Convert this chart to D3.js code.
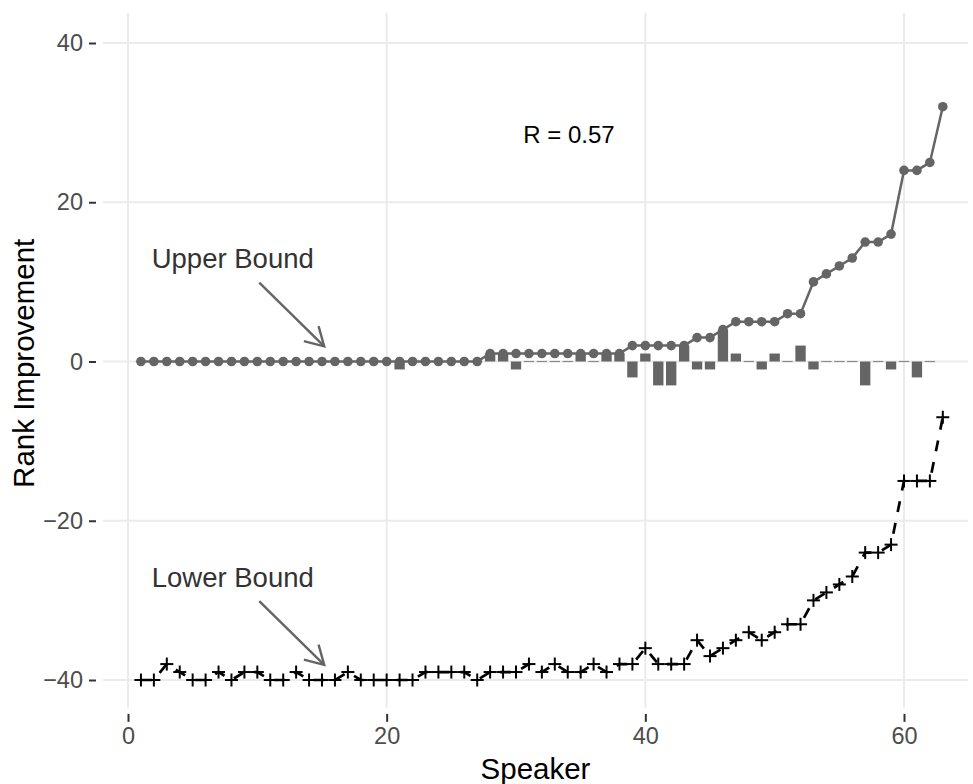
<!DOCTYPE html>
<html>
<head>
<meta charset="utf-8">
<script src="https://cdn.jsdelivr.net/npm/d3@7"></script>
<style>
  html, body { margin: 0; padding: 0; background: #fff; }
  svg { display: block; font-family: "Liberation Sans", Arial, Helvetica, sans-serif; }
</style>
</head>
<body>
<svg id="chart" width="973" height="784"></svg>
<script>
// ---- data ----
const speakers = d3.range(1, 64);
const upperBound = [0,0,0,0,0,0,0,0,0,0, 0,0,0,0,0,0,0,0,0,0,
                    0,0,0,0,0,0,0,1,1,1, 1,1,1,1,1,1,1,1,2,2,
                    2,2,2,3,3,4,5,5,5,5, 6,6,10,11,12,13,15,15,16,24,
                    24,25,32];
const lowerBound = [-40,-40,-38,-39,-40,-40,-39,-40,-39,-39, -40,-40,-39,-40,-40,-40,-39,-40,-40,-40,
                    -40,-40,-39,-39,-39,-39,-40,-39,-39,-39, -38,-39,-38,-39,-39,-38,-39,-38,-38,-36,
                    -38,-38,-38,-35,-37,-36,-35,-34,-35,-34, -33,-33,-30,-29,-28,-27,-24,-24,-23,-15,
                    -15,-15,-7];
const barValues = [0,0,0,0,0,0,0,0,0,0, 0,0,0,0,0,0,0,0,0,0,
                   -1,0,0,0,0,0,0,1,1,-1, 0,0,0,0,1,0,1,1,-2,1,
                   -3,-3,2,-1,-1,4,1,0,-1,1, 0,2,-1,0,0,0,-3,0,-1,0,
                   -2,0,null];
const xTicks = [0, 20, 40, 60];
const yTicks = [-40, -20, 0, 20, 40];
const labels = [
  {text: "Upper Bound", x: 8.1, y: 13.0, ax: 10.15, ay: 9.9, bx: 15.17, by: 1.9},
  {text: "Lower Bound", x: 8.1, y: -27.1, ax: 10.15, ay: -30.1, bx: 15.17, by: -38.1}
];
const rLabel = {text: "R = 0.57", x: 34.1, y: 28.5};

// ---- layout ----
const svg = d3.select("#chart");
const x = d3.scaleLinear().domain([0, 60]).range([128, 904]);
const y = d3.scaleLinear().domain([-40, 40]).range([680, 43]);
const pLeft = 103, pRight = 968, pTop = y(43.8), pBottom = y(-43.5);
const grey = "#656565";
const gridCol = "#ebebeb";

// gridlines
const g = svg.append("g");
g.selectAll(".gx").data(xTicks).join("line")
  .attr("x1", d => x(d)).attr("x2", d => x(d))
  .attr("y1", pTop).attr("y2", pBottom)
  .attr("stroke", gridCol).attr("stroke-width", 2);
g.selectAll(".gy").data(yTicks).join("line")
  .attr("y1", d => y(d)).attr("y2", d => y(d))
  .attr("x1", pLeft).attr("x2", pRight)
  .attr("stroke", gridCol).attr("stroke-width", 2);

// axes
const xAxis = svg.append("g").attr("transform", `translate(0,${pBottom + 6})`)
  .call(d3.axisBottom(x).tickValues(xTicks).tickSize(8).tickPadding(5).tickFormat(d3.format("d")));
const yAxis = svg.append("g").attr("transform", `translate(${pLeft - 7},0)`)
  .call(d3.axisLeft(y).tickValues(yTicks).tickSize(7).tickPadding(6)
    .tickFormat(d => d < 0 ? "\u2212" + Math.abs(d) : d));
[xAxis, yAxis].forEach(a => {
  a.select(".domain").remove();
  a.selectAll(".tick line").attr("stroke", "#333").attr("stroke-width", 2);
  a.selectAll(".tick text").attr("fill", "#4d4d4d").style("font-size", "23.5px")
    .style("font-family", "'Liberation Sans', Arial, sans-serif");
});

// axis titles
svg.append("text").attr("x", (pLeft + pRight) / 2).attr("y", 779)
  .attr("text-anchor", "middle").style("font-size", "29.5px").attr("fill", "#000")
  .text("Speaker");
svg.append("text").attr("transform", `translate(34,${(pTop + pBottom) / 2 + 3}) rotate(-90)`)
  .attr("text-anchor", "middle").style("font-size", "29.5px").attr("fill", "#000")
  .text("Rank Improvement");

// bars
const bw = x(0.8) - x(0);
const barData = speakers.map((s, i) => ({s, v: barValues[i]})).filter(d => d.v !== null);
const bars = svg.append("g");
bars.selectAll("rect").data(barData.filter(d => d.v !== 0)).join("rect")
  .attr("x", d => x(d.s) - bw / 2)
  .attr("width", bw)
  .attr("y", d => Math.min(y(d.v), y(0)))
  .attr("height", d => Math.abs(y(d.v) - y(0)))
  .attr("fill", grey);
bars.selectAll("line").data(barData.filter(d => d.v === 0)).join("line")
  .attr("x1", d => x(d.s) - bw / 2).attr("x2", d => x(d.s) + bw / 2)
  .attr("y1", y(0)).attr("y2", y(0))
  .attr("stroke", "#8a8a8a").attr("stroke-width", 1.2);

// upper line
const upData = speakers.map((s, i) => ({s, v: upperBound[i]}));
const line = d3.line().x(d => x(d.s)).y(d => y(d.v));
svg.append("path").datum(upData).attr("d", line)
  .attr("fill", "none").attr("stroke", grey).attr("stroke-width", 2.5);
svg.append("g").selectAll("circle").data(upData).join("circle")
  .attr("cx", d => x(d.s)).attr("cy", d => y(d.v)).attr("r", 4.8)
  .attr("fill", grey);

// lower line
const loData = speakers.map((s, i) => ({s, v: lowerBound[i]}));
svg.append("path").datum(loData).attr("d", line)
  .attr("fill", "none").attr("stroke", "#000").attr("stroke-width", 2.7)
  .attr("stroke-dasharray", "11,11");
const plus = svg.append("g").selectAll("g").data(loData).join("g")
  .attr("transform", d => `translate(${x(d.s)},${y(d.v)})`);
plus.append("line").attr("x1", -6.5).attr("x2", 6.5).attr("stroke", "#000").attr("stroke-width", 2);
plus.append("line").attr("y1", -6.5).attr("y2", 6.5).attr("stroke", "#000").attr("stroke-width", 2);

// annotations
labels.forEach(l => {
  svg.append("text").attr("x", x(l.x)).attr("y", y(l.y)).attr("dy", "0.36em")
    .attr("text-anchor", "middle").style("font-size", "27.5px").attr("fill", "#333")
    .text(l.text);
  const x1 = x(l.ax), y1 = y(l.ay), x2 = x(l.bx), y2 = y(l.by);
  const ang = Math.atan2(y2 - y1, x2 - x1);
  const len = 21, spread = Math.PI / 6;
  svg.append("line").attr("x1", x1).attr("y1", y1).attr("x2", x2).attr("y2", y2)
    .attr("stroke", grey).attr("stroke-width", 2.4);
  const p = [[x2 - len * Math.cos(ang - spread), y2 - len * Math.sin(ang - spread)],
             [x2, y2],
             [x2 - len * Math.cos(ang + spread), y2 - len * Math.sin(ang + spread)]];
  svg.append("path").attr("d", d3.line()(p)).attr("fill", "none")
    .attr("stroke", grey).attr("stroke-width", 2.4).attr("stroke-linejoin", "miter");
});
svg.append("text").attr("x", x(rLabel.x)).attr("y", y(rLabel.y)).attr("dy", "0.36em")
  .attr("text-anchor", "middle").style("font-size", "24px").attr("fill", "#000")
  .text(rLabel.text);
</script>
</body>
</html>
